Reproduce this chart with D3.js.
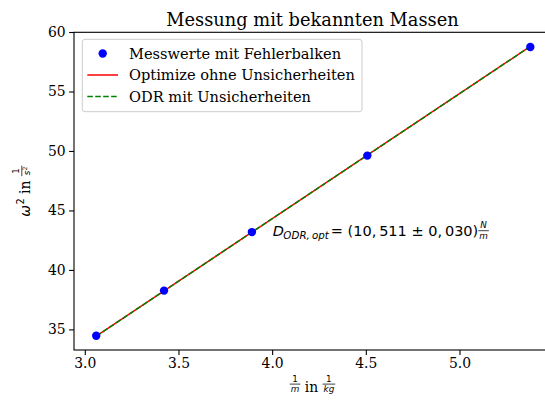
<!DOCTYPE html>
<html>
<head>
<meta charset="utf-8">
<script src="https://cdn.jsdelivr.net/npm/d3@7"></script>
<style>
  html, body { margin: 0; padding: 0; background: #fff; }
  svg { display: block; }
</style>
</head>
<body>
<svg id="chart" width="545" height="401"></svg>
<script>
// ---- data ----
const invMass = [3.061, 3.423, 3.892, 4.508, 5.378];          // 1/m in 1/kg
const omegaSq = [34.47, 38.26, 43.18, 49.61, 58.74];          // omega^2 in 1/s^2
const fitOptimize = [34.43, 38.24, 43.17, 49.64, 58.79];      // curve_fit line
const fitOdr = [34.43, 38.24, 43.17, 49.64, 58.79];           // ODR line
const xTicks = [3.0, 3.5, 4.0, 4.5, 5.0];
const yTicks = [35, 40, 45, 50, 55, 60];
const legendLabels = ["Messwerte mit Fehlerbalken", "Optimize ohne Unsicherheiten", "ODR mit Unsicherheiten"];
const titleText = "Messung mit bekannten Massen";

// ---- layout ----
const svg = d3.select("#chart");
const L = 74, R = 551, T = 32.3, B = 350;
const x = d3.scaleLinear().domain([2.9424, 5.4884]).range([L, R]);
const y = d3.scaleLinear().domain([33.268, 59.975]).range([B, T]);
const SERIF = "'DejaVu Serif', serif";
const SANS = "'DejaVu Sans', sans-serif";
const FS = 13.9;
const LFS = 14.6;
const FRS = 8.8;

// clip
svg.append("defs").append("clipPath").attr("id", "clip")
  .append("rect").attr("x", L).attr("y", T).attr("width", R - L).attr("height", B - T);

// axes
const xAxis = d3.axisBottom(x).tickValues(xTicks).tickFormat(d3.format(".1f")).tickSize(4.9).tickPadding(3.5);
const yAxis = d3.axisLeft(y).tickValues(yTicks).tickFormat(d3.format("d")).tickSize(4.9).tickPadding(3.5);

const gx = svg.append("g").attr("transform", `translate(0,${B})`).call(xAxis);
const gy = svg.append("g").attr("transform", `translate(${L},0)`).call(yAxis);
[gx, gy].forEach(g => {
  g.select(".domain").remove();
  g.selectAll(".tick line").attr("stroke", "#000").attr("stroke-width", 1.1);
  g.selectAll(".tick text").attr("font-family", SERIF).attr("font-size", FS).attr("fill", "#000");
});

// lines
const line = d3.line().x((d, i) => x(invMass[i])).y(d => y(d));
const plot = svg.append("g").attr("clip-path", "url(#clip)");
plot.append("path").datum(fitOptimize).attr("d", line)
  .attr("fill", "none").attr("stroke", "#ff0000").attr("stroke-width", 1.5);
plot.append("path").datum(fitOdr).attr("d", line)
  .attr("fill", "none").attr("stroke", "#008000").attr("stroke-width", 1.5)
  .attr("stroke-dasharray", "5.55,2.4");
plot.selectAll("circle.pt").data(omegaSq).join("circle").attr("class", "pt")
  .attr("cx", (d, i) => x(invMass[i])).attr("cy", d => y(d)).attr("r", 4.2)
  .attr("fill", "#0000ff");

// spines
svg.append("rect").attr("x", L).attr("y", T).attr("width", R - L).attr("height", B - T)
  .attr("fill", "none").attr("stroke", "#000").attr("stroke-width", 1.1);

// title
svg.append("text").attr("x", (L + R) / 2).attr("y", 25.5).attr("text-anchor", "middle")
  .attr("font-family", SERIF).attr("font-size", 17.8).attr("fill", "#000").text(titleText);

// legend
const lg = svg.append("g");
lg.append("rect").attr("x", 82.3).attr("y", 39.3).attr("width", 279.7).attr("height", 72.4)
  .attr("rx", 2.8).attr("fill", "#fff").attr("fill-opacity", 0.8)
  .attr("stroke", "#cccccc").attr("stroke-width", 1);
const rowY = [53.5, 75.0, 96.5];
lg.append("circle").attr("cx", 102.7).attr("cy", rowY[0]).attr("r", 4.2).attr("fill", "#0000ff");
lg.append("line").attr("x1", 87.3).attr("x2", 118).attr("y1", rowY[1]).attr("y2", rowY[1])
  .attr("stroke", "#ff0000").attr("stroke-width", 1.5);
lg.append("line").attr("x1", 87.3).attr("x2", 118).attr("y1", rowY[2]).attr("y2", rowY[2])
  .attr("stroke", "#008000").attr("stroke-width", 1.5).attr("stroke-dasharray", "5.55,2.4");
legendLabels.forEach((t, i) => {
  lg.append("text").attr("x", 129).attr("y", rowY[i] + 5)
    .attr("font-family", SERIF).attr("font-size", LFS).attr("fill", "#000").text(t);
});

// fraction helper (horizontal). returns width
function fraction(parent, cx0, barY, num, den, fs) {
  const g = parent.append("g");
  const n = g.append("text").attr("font-family", SANS).attr("font-size", fs).attr("text-anchor", "middle");
  num.forEach(p => n.append("tspan").attr("font-style", p.it ? "italic" : "normal")
    .attr("font-size", p.sup ? fs * 0.7 : fs).attr("dy", p.sup ? -fs * 0.35 : 0).text(p.t));
  const dn = g.append("text").attr("font-family", SANS).attr("font-size", fs).attr("text-anchor", "middle");
  den.forEach(p => dn.append("tspan").attr("font-style", p.it ? "italic" : "normal")
    .attr("font-size", p.sup ? fs * 0.7 : fs).attr("dy", p.sup ? -fs * 0.35 : 0).text(p.t));
  const w = Math.max(n.node().getComputedTextLength(), dn.node().getComputedTextLength()) + 2;
  const cx = cx0 + w / 2;
  n.attr("x", cx).attr("y", barY - 2.4);
  dn.attr("x", cx).attr("y", barY + 8.2);
  g.append("line").attr("x1", cx0).attr("x2", cx0 + w).attr("y1", barY).attr("y2", barY)
    .attr("stroke", "#000").attr("stroke-width", 0.75);
  return w;
}

// x label: 1/m in 1/kg
(function () {
  const g = svg.append("g");
  const base = 392.3;
  let cur = 0;
  const w1 = fraction(g, cur, base - 8.2, [{t: "1"}], [{t: "m", it: true}], FRS);
  cur += w1;
  const tin = g.append("text").attr("x", cur).attr("y", base).attr("font-family", SERIF)
    .attr("font-size", FS).text("\u00a0in\u00a0");
  cur += tin.node().getComputedTextLength();
  const w2 = fraction(g, cur, base - 8.2, [{t: "1"}], [{t: "kg", it: true}], FRS);
  cur += w2;
  g.attr("transform", `translate(${(L + R) / 2 - cur / 2},0)`);
})();

// y label: omega^2 in 1/s^2 (rotated)
(function () {
  const g = svg.append("g");
  const inner = g.append("g");
  const base = 0;
  let cur = 0;
  const om = inner.append("text").attr("x", cur).attr("y", base).attr("font-family", SANS)
    .attr("font-size", FS).attr("font-style", "italic").text("\u03c9");
  cur += om.node().getComputedTextLength() + 0.5;
  const sup = inner.append("text").attr("x", cur).attr("y", base - 5.8).attr("font-family", SANS)
    .attr("font-size", 9.7).text("2");
  cur += sup.node().getComputedTextLength();
  const tin = inner.append("text").attr("x", cur).attr("y", base).attr("font-family", SERIF)
    .attr("font-size", FS).text("\u00a0in\u00a0");
  cur += tin.node().getComputedTextLength();
  const w = fraction(inner, cur, base - 8.2, [{t: "1"}], [{t: "s", it: true}, {t: "2", sup: true}], FRS);
  cur += w;
  const cy = (T + B) / 2;
  g.attr("transform", `translate(30,${cy + cur / 2}) rotate(-90)`);
})();

// annotation: D_{ODR,opt} = (10,511 ± 0,030) N/m
(function () {
  const g = svg.append("g");
  const base = 235.7;
  let cur = 272.7;
  const AFS = 14.5;
  const d = g.append("text").attr("x", cur).attr("y", base).attr("font-family", SANS)
    .attr("font-size", AFS).attr("font-style", "italic").text("D");
  cur += d.node().getComputedTextLength() - 0.5;
  const sub = g.append("text").attr("x", cur).attr("y", base + 3).attr("font-family", SANS)
    .attr("font-size", 10.3).attr("font-style", "italic").text("ODR,\u2009opt");
  cur += sub.node().getComputedTextLength() + 2;
  const eq = g.append("text").attr("x", cur).attr("y", base).attr("font-family", SANS)
    .attr("font-size", AFS).text("=\u00a0(10,\u2009511\u00a0\u00b1\u00a00,\u2009030)");
  cur += eq.node().getComputedTextLength();
  fraction(g, cur, base - 5, [{t: "N", it: true}], [{t: "m", it: true}], FRS);
})();
</script>
</body>
</html>
